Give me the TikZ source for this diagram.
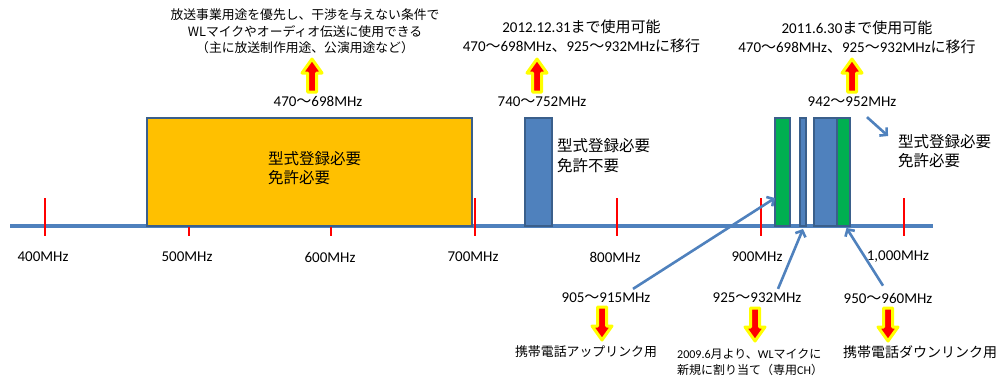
\documentclass[tikz,border=0pt]{standalone}
\usepackage{fontspec}
\setmainfont{Carlito}
\newfontfamily\jp{Noto Sans CJK JP}
\usetikzlibrary{arrows.meta,positioning,calc}
\definecolor{officeblue}{HTML}{4F81BD}
\definecolor{edgeblue}{HTML}{3A5F8B}
\definecolor{bandorange}{HTML}{FFC000}
\definecolor{bandgreen}{HTML}{00B050}
\definecolor{glow}{HTML}{FFFF00}
\newcommand{\wv}{{\jp 〜}}
\tikzset{%
    >={Straight Barb[length=5pt,width=11pt]},
    band/.style={draw=edgeblue,line width=1.8pt,inner sep=0,outer sep=0,anchor=south west,minimum height=108pt},
    axisline/.style={officeblue,line width=4pt},
    tickmark/.style={red,line width=1.4pt},
    freq/.style={font=\fontsize{15}{18}\selectfont,inner sep=0},
    boxtext/.style={font=\jp\fontsize{15.5}{19.5}\selectfont,align=left,inner sep=0,anchor=west},
    note/.style={font=\fontsize{15}{19}\selectfont,align=center,inner sep=0},
    usage/.style={inner sep=0},
    pointer/.style={->,officeblue,line width=2.6pt},
    fatarrow/.pic={\path[draw=glow,line width=3pt,fill=red,line join=round]
        (-4.5,0) -- (-4.5,19) -- (-10,19) -- (0,33) -- (10,19) -- (4.5,19) -- (4.5,0) -- cycle;}
}

\begin{document}
\begin{tikzpicture}[x=1pt,y=-1pt]
\useasboundingbox (0,0) rectangle (1006,378);
% frequency axis
\draw[axisline] (10,226) -- (933,226);
\foreach \x/\lx/\lab [count=\i] in {45/43/400MHz,189/187/500MHz,331/330/600MHz,475/473/700MHz,617/615/800MHz,761/757/900MHz,904/898/{1,000MHz}}{
    \draw[tickmark] (\x,198) -- (\x,236);
    \node[freq] (tick\i) at (\lx,257) {\lab};
}
%%%%% bands
\node[band,fill=bandorange,minimum width=325pt] (b470) at (147,226) {};
\node[band,fill=officeblue,minimum width=27pt] (b740) at (525,226) {};
\node[band,fill=bandgreen,minimum width=15pt] (b905) at (775,226) {};
\node[band,fill=officeblue,minimum width=6pt] (b925) at (800,226) {};
\node[band,fill=officeblue,minimum width=23pt] (b942) at (814,226) {};
\node[band,fill=bandgreen,minimum width=13pt] (b950) at (837,226) {};
\node[boxtext] (t470) at (268,168) {型式登録必要\\免許必要};
\node[boxtext] (t740) at (557,155.5) {型式登録必要\\免許不要};
\node[boxtext] (r942) at (898,151) {型式登録必要\\免許必要};
%%%%% notes above
\pic[rotate=180] at (312,92) {fatarrow};
\pic[rotate=180] at (537,92) {fatarrow};
\pic[rotate=180] at (852,92) {fatarrow};
\node[freq] (f470) at (318,101) {470\wv698MHz};
\node[freq] (f740) at (542,102) {740\wv752MHz};
\node[freq] (f942) at (852,102) {942\wv952MHz};
\node[note,font=\jp\fontsize{12.8}{16.5}\selectfont] (n470) at (305,31.5)
    {放送事業用途を優先し、干渉を与えない条件で\\WLマイクやオーディオ伝送に使用できる\\（主に放送制作用途、公演用途など）};
\node[note] (n740) at (581.5,36.5)
    {2012.12.31{\jp まで使用可能}\\470\wv698MHz{\jp 、}925\wv932MHz{\jp に移行}};
\node[note] (n942) at (857,37)
    {2011.6.30{\jp まで使用可能}\\470\wv698MHz{\jp 、}925\wv932MHz{\jp に移行}};
%%%%% notes below
\node[freq] (f905) at (606,298) {905\wv915MHz};
\node[freq] (f925) at (757,298) {925\wv932MHz};
\node[freq] (f950) at (888,298) {950\wv960MHz};
\pic at (602,307) {fatarrow};
\pic at (755,308) {fatarrow};
\pic at (888,308) {fatarrow};
\node[usage,font=\jp\fontsize{12.9}{16}\selectfont] (u905) at (586,352) {携帯電話アップリンク用};
\node[usage,align=left,anchor=west,font=\fontsize{12}{16}\selectfont] (u925) at (677,362)
    {2009.6{\jp 月より、}WL{\jp マイクに}\\{\jp 新規に割り当て（専用}CH{\jp ）}};
\node[usage,font=\jp\fontsize{14}{16}\selectfont] (u950) at (920,352) {携帯電話ダウンリンク用};
%%%%% pointers
\draw[pointer] ($(f905.north)+(27,-4)$) -- ($(b905.south west)+(0,-28)$);
\draw[pointer] ($(f925.north)+(21,-4)$) -- ($(b925.south)+(0,3)$);
\draw[pointer] ($(f950.north)+(-5,-7)$) -- ($(b950.south)+(3,2)$);
\draw[pointer] ($(f942.south)+(15,10)$) -- ($(r942.west)+(-10,-15)$);
\end{tikzpicture}
\end{document}
